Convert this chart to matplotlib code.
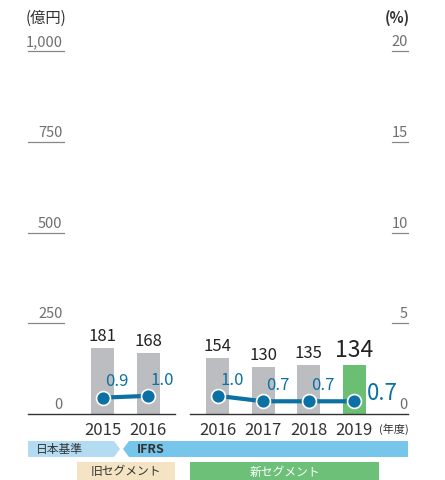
import matplotlib.pyplot as plt
import numpy as np
from matplotlib.patches import Polygon, Rectangle

plt.rcParams['font.family'] = ['Noto Sans CJK JP', 'DejaVu Sans']

# data
years_old = ['2015', '2016']
sales_old = [181, 168]
margin_old = [0.9, 1.0]
years_new = ['2016', '2017', '2018', '2019']
sales_new = [154, 130, 135, 134]
margin_new = [1.0, 0.7, 0.7, 0.7]
left_ticks = [0, 250, 500, 750, 1000]
left_labels = ['0', '250', '500', '750', '1,000']
right_ticks = [0, 5, 10, 15, 20]

GRAY = '#bcbdc0'
GREEN = '#6abf73'
BLUE = '#0b70a3'
TXT = '#333333'
TICK = '#6f6f6f'

W, H = 445, 481
fig = plt.figure(figsize=(W / 100, H / 100), dpi=100)

# pixel layout
px0, px1 = 28, 408
py_top, py_base = 52, 415
unit = 45.5
xc0 = 102.5
xmin = (px0 - xc0) / unit
xmax = (px1 - xc0) / unit

ax = fig.add_axes([px0 / W, (H - py_base) / H, (px1 - px0) / W, (py_base - py_top) / H])
ax.set_xlim(xmin, xmax)
ax.set_ylim(0, 1000)
ax.axis('off')
ax2 = ax.twinx()
ax2.set_ylim(0, 20)
ax2.axis('off')

x_old = np.arange(len(years_old))
x_new = np.arange(len(years_new)) + 2.53
bw = 23 / unit

ax.bar(x_old, sales_old, width=bw, color=GRAY, zorder=1)
colors_new = [GRAY] * (len(years_new) - 1) + [GREEN]
ax.bar(x_new, sales_new, width=bw, color=colors_new, zorder=1)

# baselines
split_l = (175 - xc0) / unit
split_r = (190 - xc0) / unit
ax.plot([xmin, split_l], [0, 0], color=TXT, lw=1, clip_on=False, zorder=2)
ax.plot([split_r, xmax], [0, 0], color=TXT, lw=1, clip_on=False, zorder=2)

# value labels on bars
for i, (x, v) in enumerate(zip(list(x_old) + list(x_new), sales_old + sales_new)):
    big = i == len(sales_old) + len(sales_new) - 1
    ax.annotate(str(v), (x, v), xytext=(0, 3), textcoords='offset points',
                ha='center', va='bottom', fontsize=16.5 if big else 12,
                color='#222222')

# margin lines
for xs, ms in [(x_old, margin_old), (x_new, margin_new)]:
    ax2.plot(xs, ms, color=BLUE, lw=3, marker='o', markersize=10,
             markerfacecolor=BLUE, markeredgecolor='white', markeredgewidth=1.2,
             zorder=3, clip_on=False)
all_x = list(x_old) + list(x_new)
all_m = margin_old + margin_new
for i, (x, m) in enumerate(zip(all_x, all_m)):
    if i == len(all_m) - 1:
        ax2.annotate(f'{m:.1f}', (x, m), xytext=(9, -2), textcoords='offset points',
                     ha='left', va='bottom', fontsize=16, color=BLUE)
    else:
        ax2.annotate(f'{m:.1f}', (x, m), xytext=(2, 6), textcoords='offset points',
                     ha='left', va='bottom', fontsize=12, color=BLUE)

# year labels
for x, y in zip(all_x, years_old + years_new):
    ax.annotate(y, (x, 0), xytext=(0, -5), textcoords='offset points',
                ha='center', va='top', fontsize=12, color=TXT)

# left ticks
ul_end = (64 - xc0) / unit
for t, lab in zip(left_ticks, left_labels):
    ax.annotate(lab, (ul_end, t), xytext=(-1, 2), textcoords='offset points',
                ha='right', va='bottom', fontsize=10.5, color=TICK)
    if t > 0:
        ax.plot([xmin, ul_end], [t, t], color='#888888', lw=0.9, clip_on=False)
# right ticks
ur_start = (392 - xc0) / unit
for t in right_ticks:
    ax2.annotate(str(t), (xmax, t), xytext=(0, 2), textcoords='offset points',
                 ha='right', va='bottom', fontsize=10.5, color=TICK)
    if t > 0:
        ax2.plot([ur_start, xmax], [t, t], color='#888888', lw=0.9, clip_on=False)

# overlay for headers and bands (pixel space)
ov = fig.add_axes([0, 0, 1, 1], zorder=-1)
ov.set_xlim(0, W)
ov.set_ylim(H, 0)
ov.axis('off')

ov.text(26, 18, '(億円)', ha='left', va='center', fontsize=11, color=TXT)
ov.text(410, 18, '(%)', ha='right', va='center', fontsize=10.5, color=TXT,
        fontweight='bold')
ov.text(409, 429, '(年度)', ha='right', va='center', fontsize=8, color=TXT)

ov.add_patch(Polygon([(28, 442), (114, 442), (120, 450), (114, 458), (28, 458)],
                     closed=True, color='#b3dbf2', lw=0))
ov.add_patch(Polygon([(129, 442), (408, 442), (408, 458), (129, 458), (123, 450)],
                     closed=True, color='#76c5eb', lw=0))
ov.text(36, 450, '日本基準', ha='left', va='center', fontsize=8.5, color=TXT)
ov.text(137, 450, 'IFRS', ha='left', va='center', fontsize=9, color=TXT,
        fontweight='bold')

ov.add_patch(Rectangle((77, 463), 98, 20, color='#f4e4c4', lw=0))
ov.add_patch(Rectangle((190, 463), 189, 20, color='#6cc077', lw=0))
ov.text(126, 472, '旧セグメント', ha='center', va='center', fontsize=8.5, color=TXT)
ov.text(284.5, 472, '新セグメント', ha='center', va='center', fontsize=8.5, color='white')

fig.savefig('out.png', dpi=100)
